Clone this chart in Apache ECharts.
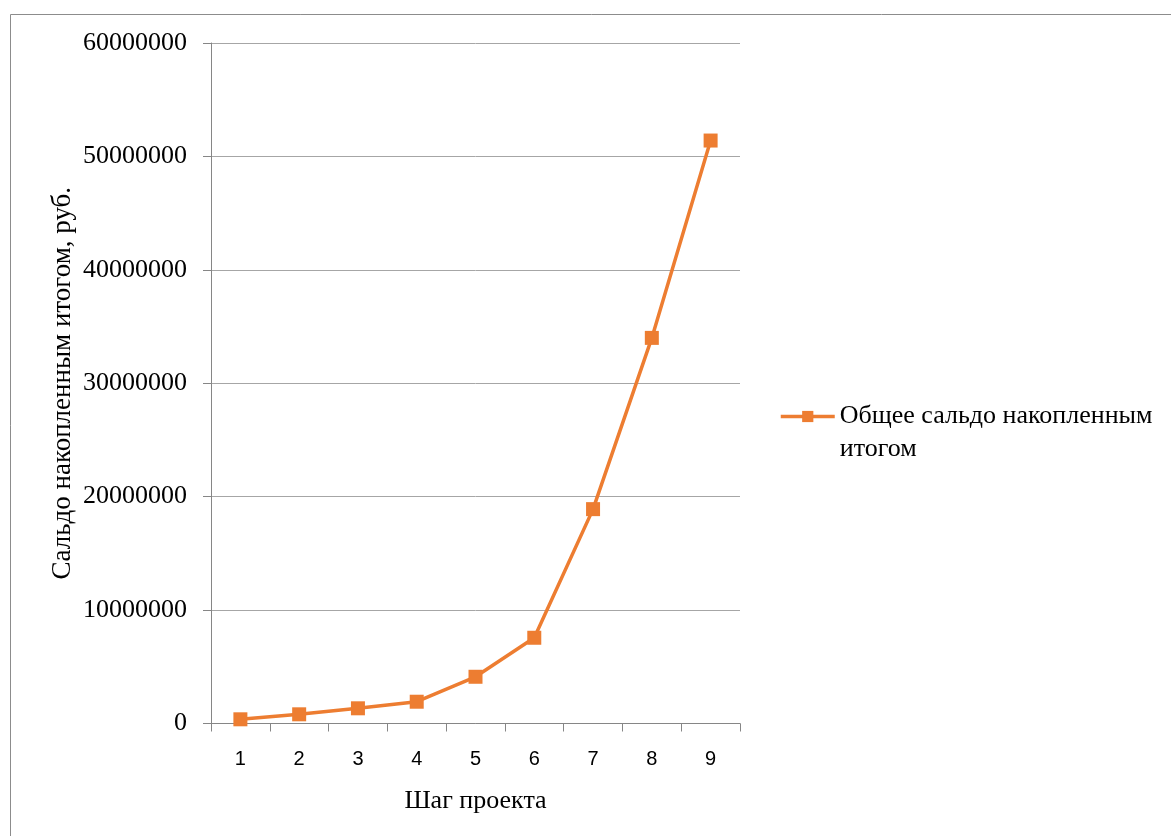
<!DOCTYPE html>
<html><head><meta charset="utf-8">
<script src="https://cdn.jsdelivr.net/npm/echarts@6/dist/echarts.min.js"></script>
<style>html,body{margin:0;padding:0;background:#fff}#c{width:1171px;height:836px}</style>
</head><body><div id="c"></div>
<script>
const categories = ['1','2','3','4','5','6','7','8','9'];
const seriesName = 'Общее сальдо накопленным итогом';
const values = [370000, 810000, 1340000, 1920000, 4120000, 7560000, 18900000, 34000000, 51400000];
const yTicks = { min: 0, max: 60000000, interval: 10000000 };
const xTitle = 'Шаг проекта';
const yTitle = 'Сальдо накопленным итогом, руб.';

const serif = '"Liberation Serif", "Times New Roman", serif';
const sans = '"Liberation Sans", Arial, sans-serif';
const chart = echarts.init(document.getElementById('c'), null, {renderer: 'canvas'});
chart.setOption({
  animation: false,
  backgroundColor: '#fff',
  graphic: [{
    type: 'rect', shape: {x: 10.5, y: 14.5, width: 1300, height: 1000},
    style: {fill: 'none', stroke: '#8c8c8c', lineWidth: 1}, silent: true, z: -1
  }],
  grid: {left: 211, right: 431, top: 43, bottom: 112.5, containLabel: false},
  legend: {
    left: 779, top: 367, orient: 'vertical', padding: 0,
    itemWidth: 54, itemHeight: 14, itemGap: 10,
    lineStyle: {width: 3.5},
    formatter: function () { return ' \nОбщее сальдо накопленным\nитогом'; },
    textStyle: {fontFamily: serif, fontSize: 26, color: '#000', lineHeight: 33},
    data: [seriesName]
  },
  xAxis: {
    type: 'category', data: categories, boundaryGap: true,
    name: xTitle, nameLocation: 'middle', nameGap: 65,
    nameTextStyle: {fontFamily: serif, fontSize: 26, color: '#000'},
    axisLine: {lineStyle: {color: '#868686', width: 1}},
    axisTick: {show: true, length: 8, alignWithLabel: false, lineStyle: {color: '#868686'}},
    axisLabel: {fontFamily: sans, fontSize: 20, color: '#000', margin: 26}
  },
  yAxis: {
    type: 'value', min: yTicks.min, max: yTicks.max, interval: yTicks.interval,
    name: yTitle, nameLocation: 'middle', nameGap: 135, nameRotate: 90,
    nameTextStyle: {fontFamily: serif, fontSize: 27, color: '#000'},
    axisLine: {show: true, lineStyle: {color: '#868686', width: 1}},
    axisTick: {show: true, length: 8, lineStyle: {color: '#868686'}},
    splitLine: {show: true, lineStyle: {color: '#a6a6a6', width: 1}},
    axisLabel: {fontFamily: serif, fontSize: 26, color: '#000', margin: 24,
      formatter: function (v) { return String(v); }}
  },
  series: [{
    name: seriesName, type: 'line', data: values,
    symbol: 'rect', symbolSize: 14,
    lineStyle: {color: '#ED7D31', width: 3.5},
    itemStyle: {color: '#ED7D31'}
  }]
});
</script></body></html>
